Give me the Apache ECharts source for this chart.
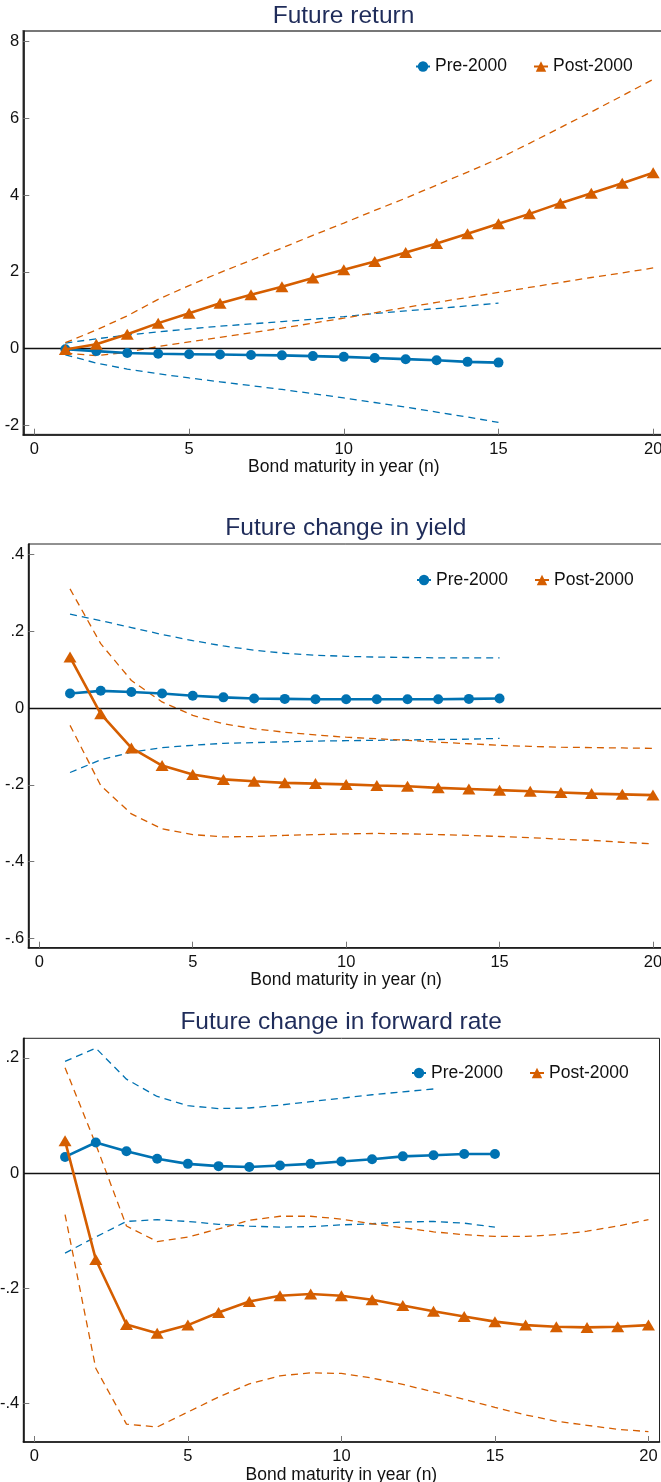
<!DOCTYPE html>
<html>
<head>
<meta charset="utf-8">
<script src="https://cdn.jsdelivr.net/npm/echarts@6/dist/echarts.min.js"></script>
<style>
  html, body { margin: 0; padding: 0; background: #fff; overflow: hidden; }
  #chart { width: 661px; height: 1482px; }
</style>
</head>
<body>
<div id="chart"></div>
<script>
// Bond maturity (years) shared by all panels
const maturity = [1,2,3,4,5,6,7,8,9,10,11,12,13,14,15,16,17,18,19,20];
const xTicks = [0, 5, 10, 15, 20];

// Panel 1: future return
const retPre    = [-0.02,-0.07,-0.12,-0.14,-0.15,-0.16,-0.17,-0.18,-0.20,-0.22,-0.25,-0.28,-0.31,-0.35,-0.37];
const retPreHi  = [0.14,0.25,0.35,0.43,0.51,0.58,0.64,0.70,0.76,0.83,0.91,0.98,1.04,1.11,1.18];
const retPreLo  = [-0.17,-0.38,-0.54,-0.66,-0.77,-0.87,-0.97,-1.07,-1.18,-1.29,-1.41,-1.53,-1.66,-1.79,-1.93];
const retPost   = [-0.03,0.11,0.37,0.66,0.92,1.18,1.40,1.61,1.84,2.05,2.27,2.50,2.74,2.99,3.25,3.51,3.79,4.05,4.31,4.58];
const retPostHi = [0.15,0.48,0.85,1.28,1.64,1.98,2.30,2.62,2.95,3.27,3.60,3.92,4.26,4.60,4.95,5.35,5.76,6.17,6.59,7.02];
const retPostLo = [-0.12,-0.19,-0.10,0.05,0.17,0.29,0.41,0.53,0.66,0.79,0.93,1.07,1.20,1.33,1.46,1.59,1.72,1.85,1.97,2.10];
const retTicks  = [-2, 0, 2, 4, 6, 8];

// Panel 2: future change in yield
const yldPre    = [0.038,0.045,0.042,0.038,0.032,0.028,0.025,0.024,0.023,0.023,0.023,0.023,0.023,0.024,0.025];
const yldPreHi  = [0.245,0.228,0.210,0.192,0.176,0.162,0.151,0.143,0.138,0.135,0.133,0.132,0.131,0.131,0.131];
const yldPreLo  = [-0.168,-0.135,-0.115,-0.103,-0.097,-0.092,-0.090,-0.088,-0.086,-0.085,-0.084,-0.083,-0.082,-0.081,-0.079];
const yldPost   = [0.133,-0.015,-0.104,-0.150,-0.173,-0.186,-0.191,-0.195,-0.197,-0.199,-0.202,-0.204,-0.208,-0.211,-0.214,-0.217,-0.220,-0.223,-0.225,-0.227];
const yldPostHi = [0.311,0.168,0.072,0.016,-0.019,-0.041,-0.054,-0.063,-0.070,-0.076,-0.080,-0.084,-0.089,-0.093,-0.097,-0.100,-0.102,-0.103,-0.104,-0.105];
const yldPostLo = [-0.045,-0.202,-0.276,-0.315,-0.330,-0.336,-0.335,-0.332,-0.330,-0.328,-0.327,-0.328,-0.330,-0.332,-0.335,-0.338,-0.342,-0.345,-0.350,-0.354];
const yldTicks  = [-0.6, -0.4, -0.2, 0, 0.2, 0.4];

// Panel 3: future change in forward rate
const fwdPre    = [0.028,0.053,0.038,0.025,0.016,0.012,0.0105,0.013,0.016,0.020,0.024,0.029,0.031,0.033,0.033];
const fwdPreHi  = [0.194,0.217,0.163,0.133,0.117,0.112,0.113,0.118,0.124,0.130,0.136,0.141,0.146];
const fwdPreLo  = [-0.139,-0.111,-0.084,-0.081,-0.084,-0.089,-0.092,-0.094,-0.093,-0.090,-0.088,-0.085,-0.084,-0.087,-0.094];
const fwdPost   = [0.056,-0.150,-0.263,-0.278,-0.264,-0.242,-0.223,-0.213,-0.210,-0.213,-0.220,-0.230,-0.240,-0.249,-0.258,-0.264,-0.267,-0.268,-0.267,-0.264];
const fwdPostHi = [0.183,0.050,-0.092,-0.119,-0.111,-0.097,-0.082,-0.075,-0.075,-0.080,-0.088,-0.095,-0.102,-0.107,-0.110,-0.110,-0.107,-0.101,-0.092,-0.081];
const fwdPostLo = [-0.072,-0.339,-0.436,-0.441,-0.415,-0.389,-0.366,-0.352,-0.347,-0.348,-0.356,-0.367,-0.380,-0.393,-0.407,-0.420,-0.431,-0.438,-0.445,-0.449];
const fwdTicks  = [-0.4, -0.2, 0, 0.2];

const titles = ['Future return', 'Future change in yield', 'Future change in forward rate'];
const xName = 'Bond maturity in year (n)';
const seriesNames = ['Pre-2000', 'Post-2000'];

const BLUE = '#0072B2';
const ORANGE = '#D55E00';
const FONT = 'Liberation Sans, Arial, Helvetica, sans-serif';

// panel geometry (pixels) and value ranges
const panels = [
  { left: 23.3, top: 31,     width: 641,   height: 403.7, yMin: -2.25,  yMax: 8.28,  ticks: retTicks,
    pre: retPre, preHi: retPreHi, preLo: retPreLo, post: retPost, postHi: retPostHi, postLo: retPostLo,
    titleY: 15, legendY: 67.5, legendX: 415, border: ['#777', 2] },
  { left: 28.3, top: 544,    width: 635.7, height: 403.7, yMin: -0.625, yMax: 0.428, ticks: yldTicks,
    pre: yldPre, preHi: yldPreHi, preLo: yldPreLo, post: yldPost, postHi: yldPostHi, postLo: yldPostLo,
    titleY: 527, legendY: 581, legendX: 416, border: ['#222', 1] },
  { left: 23.3, top: 1038.3, width: 636.2, height: 403.7, yMin: -0.467, yMax: 0.234, ticks: fwdTicks,
    pre: fwdPre, preHi: fwdPreHi, preLo: fwdPreLo, post: fwdPost, postHi: fwdPostHi, postLo: fwdPostLo,
    titleY: 1021, legendY: 1074, legendX: 411, border: ['#222', 1] }
];

function pairs(vals) {
  return vals.map((v, i) => [maturity[i], v]);
}

function fmtTick(v) {
  if (v === 0) return '0';
  let s = String(Math.round(v * 100) / 100);
  return s.replace(/^(-?)0\./, '$1.');
}

const grid = [], xAxis = [], yAxis = [], series = [], title = [], legend = [];

panels.forEach((p, g) => {
  grid.push({
    left: p.left, top: p.top, width: p.width, height: p.height,
    show: true, borderColor: p.border[0], borderWidth: p.border[1], backgroundColor: '#fff',
    containLabel: false, outerBoundsMode: 'none'
  });
  xAxis.push({
    type: 'value', gridIndex: g, min: -0.36, max: 20.36,
    name: xName, nameLocation: 'middle', nameGap: 21,
    nameTextStyle: { fontFamily: FONT, fontSize: 17.5, color: '#111' },
    axisLine: { show: true, onZero: false, lineStyle: { color: '#111', width: 1.6 } },
    axisTick: { show: true, inside: true, length: 6, customValues: xTicks, lineStyle: { color: '#777', width: 1 } },
    axisLabel: { customValues: xTicks, margin: 6, fontFamily: FONT, fontSize: 16.5, color: '#111',
                 hideOverlap: false, formatter: v => String(v) },
    splitLine: { show: false }
  });
  yAxis.push({
    type: 'value', gridIndex: g, min: p.yMin, max: p.yMax,
    axisLine: { show: true, onZero: false, lineStyle: { color: '#111', width: 1.6 } },
    axisTick: { show: true, inside: true, length: 6, customValues: p.ticks, lineStyle: { color: '#777', width: 1 } },
    axisLabel: { customValues: p.ticks, margin: 4, fontFamily: FONT, fontSize: 16.5, color: '#111',
                 formatter: fmtTick },
    splitLine: { show: false }
  });
  title.push({
    text: titles[g], left: p.left + p.width / 2 - 0.3, top: p.titleY - 11, textAlign: 'center', padding: 0,
    textStyle: { fontFamily: FONT, fontSize: 24.5, fontWeight: 'normal', color: '#1f2c5a' }
  });
  legend.push({
    data: seriesNames, left: p.legendX, top: p.legendY - 10, padding: 0,
    itemWidth: 14, itemHeight: 13, itemGap: 26, selectedMode: false,
    textStyle: { fontFamily: FONT, fontSize: 17.5, color: '#111' }
  });

  const dash = { width: 1.3, type: [7, 5] };
  // confidence bands
  [['preHi', BLUE], ['preLo', BLUE], ['postHi', ORANGE], ['postLo', ORANGE]].forEach(([key, c]) => {
    series.push({
      type: 'line', name: key, xAxisIndex: g, yAxisIndex: g, data: pairs(p[key]),
      symbol: 'none', silent: true, z: 3,
      lineStyle: Object.assign({ color: c }, dash)
    });
  });
  // zero reference line
  series[series.length - 1].markLine = {
    silent: true, symbol: 'none', label: { show: false }, animation: false,
    lineStyle: { color: '#111', type: 'solid', width: 1.3 },
    data: [{ yAxis: 0 }]
  };
  // point estimates
  series.push({
    type: 'line', name: seriesNames[0], xAxisIndex: g, yAxisIndex: g, data: pairs(p.pre),
    symbol: 'circle', symbolSize: 10, z: 5,
    lineStyle: { color: BLUE, width: 2.6 }, itemStyle: { color: BLUE }
  });
  series.push({
    type: 'line', name: seriesNames[1], xAxisIndex: g, yAxisIndex: g, data: pairs(p.post),
    symbol: 'triangle', symbolSize: [13, 11], z: 6,
    lineStyle: { color: ORANGE, width: 2.6 }, itemStyle: { color: ORANGE }
  });
});

const chart = echarts.init(document.getElementById('chart'), null, { renderer: 'canvas' });
chart.setOption({
  animation: false,
  backgroundColor: '#fff',
  title, legend, grid, xAxis, yAxis, series
});
</script>
</body>
</html>
